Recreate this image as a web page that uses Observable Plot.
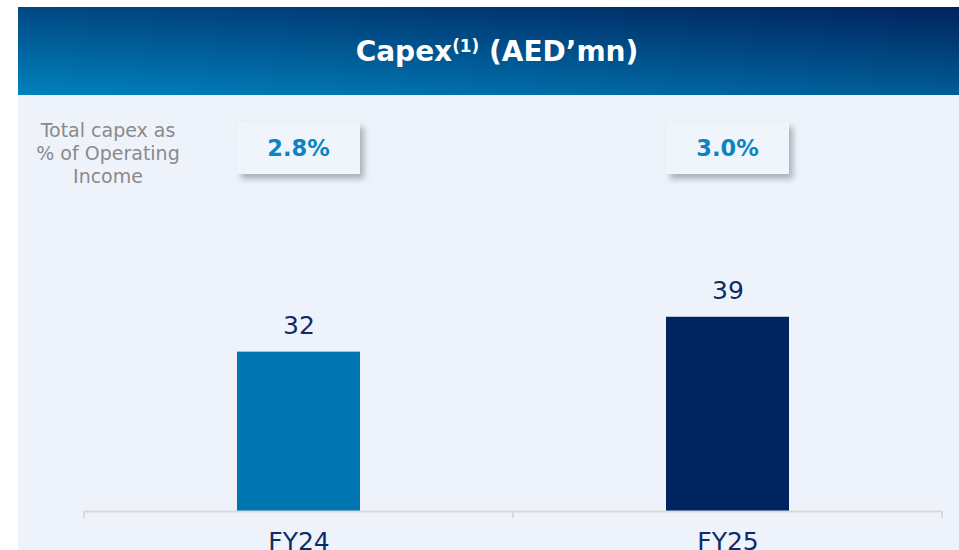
<!DOCTYPE html>
<html>
<head>
<meta charset="utf-8">
<script src="https://cdn.jsdelivr.net/npm/d3@7"></script>
<script src="https://cdn.jsdelivr.net/npm/@observablehq/plot@0.6"></script>
<style>
  html, body { margin: 0; padding: 0; width: 959px; height: 550px; overflow: hidden; background: #ffffff; }
  #header {
    position: absolute; left: 18px; top: 7px; width: 941px; height: 88px;
    background: linear-gradient(3.5deg, #0082bd 0%, #00235d 100%);
    color: #ffffff; font-family: "DejaVu Sans", Verdana, sans-serif; font-weight: bold;
    font-size: 28px; line-height: 88px; text-align: center; box-sizing: border-box; padding-left: 17px; padding-top: 1px;
  }
  #header .sup { font-size: 0.6em; position: relative; top: -0.55em; }
  #panel { position: absolute; left: 18px; top: 95px; width: 941px; height: 455px; background: #eef3fb; }
  #note {
    position: absolute; left: 18px; top: 119px; width: 180px; text-align: center;
    font-family: "DejaVu Sans", Verdana, sans-serif; font-size: 19px; line-height: 23px; color: #8a8a8a;
  }
  #chart { position: absolute; left: 18px; top: 95px; }
</style>
</head>
<body>
<div id="header">Capex<span class="sup">(1)</span> (AED’mn)</div>
<div id="panel"></div>
<div id="note">Total capex as<br>% of Operating<br>Income</div>
<div id="chart"></div>
<script>
const categories = ["FY24", "FY25"];
const capex = [32, 39];
const pctOfOperatingIncome = ["2.8%", "3.0%"];
const barColors = ["#0075b1", "#00245f"];

const data = categories.map((c, i) => ({cat: c, value: capex[i], pct: pctOfOperatingIncome[i]}));

const plot = Plot.plot({
  width: 941,
  height: 480,
  marginLeft: 66,
  marginRight: 17,
  marginTop: 167,
  marginBottom: 64,
  x: {domain: categories, padding: 0, label: null},
  y: {domain: [0, 50], axis: null},
  color: {domain: categories, range: barColors},
  style: {fontFamily: "DejaVu Sans, Verdana, sans-serif", background: "transparent", overflow: "visible"},
  marks: [
    Plot.barY(data, {x: "cat", y: "value", fill: "cat", insetLeft: 153, insetRight: 153}),
    Plot.ruleY([0], {stroke: "#d9d9d9", strokeWidth: 2}),
    Plot.text(data, {x: "cat", y: "value", text: d => String(d.value), lineAnchor: "bottom", dy: -18, fontSize: 25, fill: "#0d2b68"}),
    Plot.axisX({tickSize: 0, tickPadding: 21, fontSize: 25, fill: "#0d2b68", label: null})
  ]
});

document.getElementById("chart").appendChild(plot);

// Decorations positioned through Plot's own scales
const xs = plot.scale("x");
const ys = plot.scale("y");
const bw = xs.bandwidth;
const svg = d3.select(plot);

const defs = svg.insert("defs", ":first-child");
const f = defs.append("filter").attr("id", "boxShadow").attr("x", "-20%").attr("y", "-30%").attr("width", "150%").attr("height", "180%");
f.append("feDropShadow").attr("dx", 4).attr("dy", 5).attr("stdDeviation", 3)
  .attr("flood-color", "#6f7a86").attr("flood-opacity", 0.55);

// boundary ticks on the category axis
const y0 = ys.apply(0);
const bounds = categories.map(c => xs.apply(c)).concat([xs.apply(categories[categories.length - 1]) + bw]);
svg.append("g").selectAll("line").data(bounds).join("line")
  .attr("x1", d => d).attr("x2", d => d)
  .attr("y1", y0).attr("y2", y0 + 7)
  .attr("stroke", "#d9d9d9").attr("stroke-width", 2);

// percentage boxes
const boxW = bw - 306;
const g = svg.append("g");
data.forEach(d => {
  const cx = xs.apply(d.cat) + bw / 2;
  g.append("rect")
    .attr("x", cx - boxW / 2).attr("y", 27)
    .attr("width", boxW).attr("height", 52)
    .attr("fill", "#f0f4fb").attr("filter", "url(#boxShadow)");
  g.append("text")
    .attr("x", cx).attr("y", 61)
    .attr("text-anchor", "middle")
    .attr("font-family", "DejaVu Sans, Verdana, sans-serif")
    .attr("font-weight", "bold").attr("font-size", 22.5)
    .attr("fill", "#0b84c4")
    .text(d.pct);
});
</script>
</body>
</html>
